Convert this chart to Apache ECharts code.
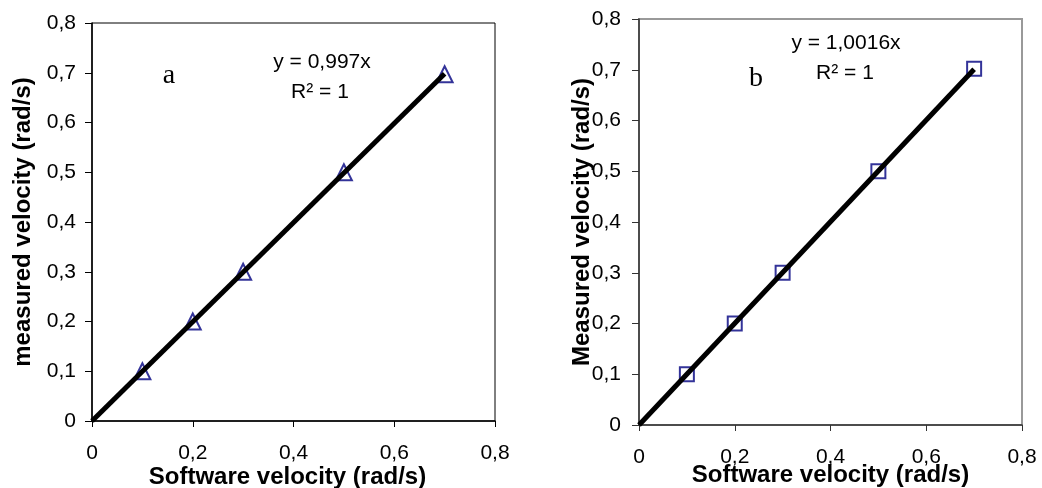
<!DOCTYPE html>
<html>
<head>
<meta charset="utf-8">
<script src="https://cdn.jsdelivr.net/npm/echarts@6/dist/echarts.min.js"></script>
<style>html,body{margin:0;padding:0;background:#fff}#c{width:1042px;height:488px}</style>
</head>
<body>
<div id="c"></div>
<script>
// Panel a data
const softwareA = [0.1, 0.2, 0.3, 0.5, 0.7];
const measuredA = [0.1, 0.2, 0.3, 0.5, 0.697];
const trendA = [[0, 0], [0.7, 0.698]];
// Panel b data
const softwareB = [0.1, 0.2, 0.3, 0.5, 0.7];
const measuredB = [0.1, 0.2, 0.3, 0.5, 0.702];
const trendB = [[0, 0], [0.7, 0.701]];
// Labels
const eqA = ['y = 0,997x', 'R² = 1'];
const eqB = ['y = 1,0016x', 'R² = 1'];
const xTitle = 'Software velocity (rad/s)';
const yTitleA = 'measured velocity (rad/s)';
const yTitleB = 'Measured velocity (rad/s)';

const FONT = '"Liberation Sans", Arial, sans-serif';
const fmt = v => String(+v.toFixed(1)).replace('.', ',');

function xAx(idx, color, nameGap, pad) {
  return {
    type: 'value', gridIndex: idx, min: 0, max: 0.8, interval: 0.2,
    name: xTitle, nameLocation: 'middle', nameGap: nameGap, nameMoveOverlap: false,
    nameTextStyle: {fontFamily: FONT, fontWeight: 'bold', fontSize: 24, color: '#000', padding: pad},
    axisLine: {show: true, onZero: false, lineStyle: {color: color, width: 1.5}},
    axisTick: {show: true, inside: false, length: 6, lineStyle: {color: color}},
    axisLabel: {formatter: fmt, fontFamily: FONT, fontSize: 21, color: '#000', margin: 22},
    splitLine: {show: false}
  };
}
function yAx(idx, color, name, nameGap, margin) {
  return {
    type: 'value', gridIndex: idx, min: 0, max: 0.8, interval: 0.1,
    name: name, nameLocation: 'middle', nameGap: nameGap, nameMoveOverlap: false,
    nameTextStyle: {fontFamily: FONT, fontWeight: 'bold', fontSize: 24, color: '#000'},
    axisLine: {show: true, onZero: false, lineStyle: {color: color, width: 1.5}},
    axisTick: {show: true, inside: false, length: 7, lineStyle: {color: color}},
    axisLabel: {formatter: fmt, fontFamily: FONT, fontSize: 21, color: '#000', margin: margin},
    splitLine: {show: false}
  };
}

const chart = echarts.init(document.getElementById('c'));
chart.setOption({
  animation: false,
  grid: [
    {left: 92, top: 23, right: 547, bottom: 67, show: true, borderColor: '#000', borderWidth: 1, backgroundColor: '#fff', containLabel: false, outerBoundsMode: 'none'},
    {left: 639, top: 19, right: 20, bottom: 63, show: true, borderColor: '#999', borderWidth: 2, backgroundColor: '#fff', containLabel: false, outerBoundsMode: 'none'}
  ],
  xAxis: [xAx(0, '#000', 44, [0, 12, 0, 0]), xAx(1, '#333', 38, 0)],
  yAxis: [yAx(0, '#000', yTitleA, 57, 16), yAx(1, '#333', yTitleB, 45, 18)],
  series: [
    {type: 'scatter', xAxisIndex: 0, yAxisIndex: 0, symbol: 'triangle', symbolSize: 16,
     itemStyle: {color: '#fff', borderColor: '#000080', borderWidth: 2},
     data: softwareA.map((x, i) => [x, measuredA[i]]), z: 2},
    {type: 'line', xAxisIndex: 0, yAxisIndex: 0, data: trendA, showSymbol: false,
     lineStyle: {color: '#000', width: 5}, z: 3},
    {type: 'scatter', xAxisIndex: 1, yAxisIndex: 1, symbol: 'rect', symbolSize: 14,
     itemStyle: {color: '#fff', borderColor: '#000080', borderWidth: 2},
     data: softwareB.map((x, i) => [x, measuredB[i]]), z: 2},
    {type: 'line', xAxisIndex: 1, yAxisIndex: 1, data: trendB, showSymbol: false,
     lineStyle: {color: '#000', width: 5}, z: 3}
  ],
  graphic: [
    {type: 'text', x: 169, y: 76, z: 10, style: {text: 'a', font: '28px "Liberation Serif", serif', fill: '#000', align: 'center', verticalAlign: 'middle'}},
    {type: 'text', x: 322, y: 62, z: 10, style: {text: eqA[0], font: '21px ' + FONT, fill: '#000', align: 'center', verticalAlign: 'middle'}},
    {type: 'text', x: 320, y: 92, z: 10, style: {text: eqA[1], font: '21px ' + FONT, fill: '#000', align: 'center', verticalAlign: 'middle'}},
    {type: 'text', x: 756, y: 79, z: 10, style: {text: 'b', font: '28px "Liberation Serif", serif', fill: '#000', align: 'center', verticalAlign: 'middle'}},
    {type: 'text', x: 846, y: 43, z: 10, style: {text: eqB[0], font: '21px ' + FONT, fill: '#000', align: 'center', verticalAlign: 'middle'}},
    {type: 'text', x: 845, y: 73, z: 10, style: {text: eqB[1], font: '21px ' + FONT, fill: '#000', align: 'center', verticalAlign: 'middle'}}
  ]
});
</script>
</body>
</html>
